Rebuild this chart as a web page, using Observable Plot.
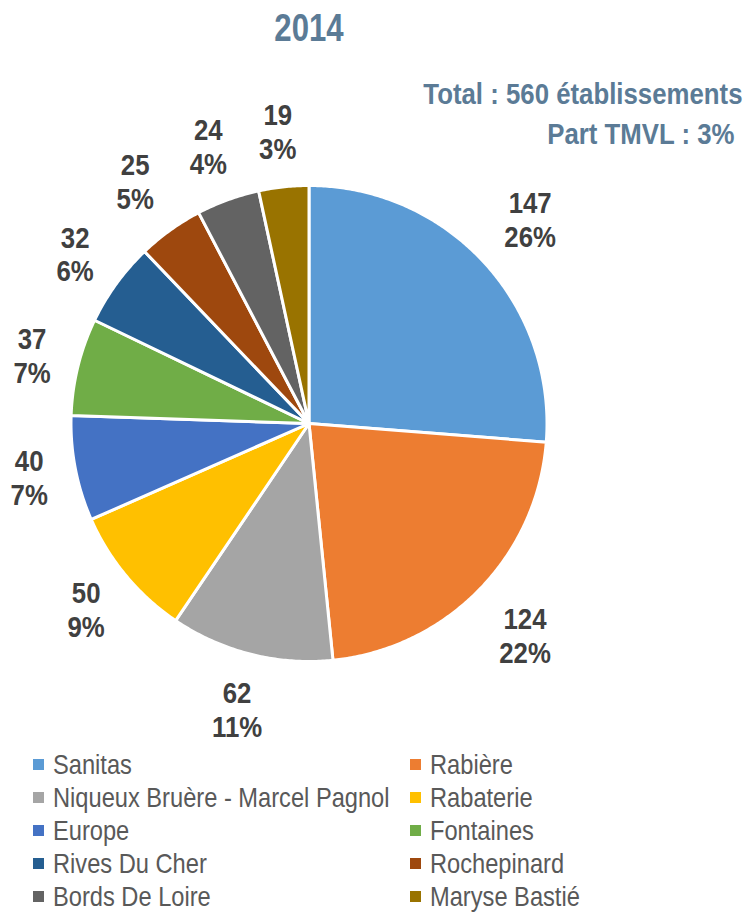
<!DOCTYPE html>
<html>
<head>
<meta charset="utf-8">
<script src="https://cdn.jsdelivr.net/npm/d3@7"></script>
<script src="https://cdn.jsdelivr.net/npm/@observablehq/plot@0.6"></script>
<style>
  html, body { margin: 0; padding: 0; background: #ffffff; }
  #wrap { position: relative; width: 747px; height: 912px; overflow: hidden; background: #fff; }
  #chart svg { display: block; }
  #legend {
    position: absolute; left: 33px; top: 748px;
    display: grid; grid-template-columns: 377px 300px; grid-auto-rows: 33px;
    font-family: "Liberation Sans", Arial, sans-serif; font-size: 27.5px; color: #595959;
  }
  .item { display: flex; align-items: center; white-space: nowrap; line-height: 33px; }
  .sw { width: 10.5px; height: 10.5px; flex: none; margin-right: 9.5px; }
  .lbl { display: inline-block; transform: scaleX(0.86); transform-origin: 0 50%; }
</style>
</head>
<body>
<div id="wrap">
  <div id="chart"></div>
  <div id="legend"></div>
</div>
<script>
// ---- data ----
const names = ["Sanitas", "Rabière", "Niqueux Bruère - Marcel Pagnol", "Rabaterie", "Europe",
               "Fontaines", "Rives Du Cher", "Rochepinard", "Bords De Loire", "Maryse Bastié"];
const values = [147, 124, 62, 50, 40, 37, 32, 25, 24, 19];
const percentLabels = ["26%", "22%", "11%", "9%", "7%", "7%", "6%", "5%", "4%", "3%"];
const colors = ["#5B9BD5", "#ED7D31", "#A5A5A5", "#FFC000", "#4472C4",
                "#70AD47", "#255E91", "#9E480E", "#636363", "#997300"];
const title = "2014";
const subtitleLines = ["Total : 560 établissements", "Part TMVL : 3%"];

// ---- layout ----
const W = 747, H = 745;
const cx = 308.5, cy = 423, R = 238;
const FONT = "Liberation Sans, Arial, sans-serif";
const LABEL_SIZE = 30, SX = 0.86, GAP = 28;

const rows = names.map((name, i) => ({name, value: values[i], pct: percentLabels[i]}));
const arcs = d3.pie().sort(null).value(d => d.value)(rows);

// slice outlines in unit-circle coordinates
const slicePts = [];
for (const a of arcs) {
  const n = Math.max(2, Math.ceil((a.endAngle - a.startAngle) / (Math.PI / 360)));
  slicePts.push({name: a.data.name, x: 0, y: 0});
  for (let k = 0; k <= n; k++) {
    const t = a.startAngle + (a.endAngle - a.startAngle) * k / n;
    slicePts.push({name: a.data.name, x: Math.sin(t), y: Math.cos(t)});
  }
  slicePts.push({name: a.data.name, x: 0, y: 0});
}

// label positions: outside end, label box just beyond the rim
const charW = c => (c === "%" ? 0.889 : 0.556);
const textW = s => Array.from(s).reduce((acc, c) => acc + charW(c), 0);
const labelPts = arcs.map(a => {
  const m = (a.startAngle + a.endAngle) / 2;
  const lines = [String(a.data.value), a.data.pct];
  const hw = d3.max(lines, textW) * LABEL_SIZE * SX / 2;
  const hh = 27.5;
  const s = Math.abs(Math.sin(m)), c = Math.abs(Math.cos(m));
  const t = Math.min(s > 1e-6 ? hw / s : Infinity, c > 1e-6 ? hh / c : Infinity);
  const d = (R + GAP + t) / R;
  return {x: Math.sin(m) * d, y: Math.cos(m) * d, text: lines.join("\n")};
});

const plot = Plot.plot({
  width: W, height: H,
  margin: 0,
  style: {background: "white", overflow: "visible"},
  x: {domain: [-1, 1], range: [cx - R, cx + R], axis: null},
  y: {domain: [-1, 1], range: [cy + R, cy - R], axis: null},
  color: {domain: names, range: colors},
  marks: [
    Plot.line(slicePts, {x: "x", y: "y", z: "name", fill: "name", stroke: "white", strokeWidth: 3, curve: "linear"}),
    Plot.text(labelPts, {x: "x", y: "y", text: "text",
      fontFamily: FONT, fontSize: LABEL_SIZE, fontWeight: "bold", fill: "#404040",
      lineHeight: 1.13, textAnchor: "middle", lineAnchor: "middle"}),
    Plot.text([title], {frameAnchor: "top", dx: cx - W / 2, dy: 40, text: d => d,
      fontFamily: FONT, fontSize: 38, fontWeight: "bold", fill: "#5B7B96", textAnchor: "middle", lineAnchor: "bottom"}),
    Plot.text([subtitleLines[0]], {frameAnchor: "top-right", dx: -5, dy: 103.5, text: d => d,
      fontFamily: FONT, fontSize: 30, fontWeight: "bold", fill: "#5B7B96", textAnchor: "end", lineAnchor: "bottom"}),
    Plot.text([subtitleLines[1]], {frameAnchor: "top-right", dx: -13, dy: 143, text: d => d,
      fontFamily: FONT, fontSize: 30, fontWeight: "bold", fill: "#5B7B96", textAnchor: "end", lineAnchor: "bottom"})
  ]
});

// condense text horizontally (reference uses a narrow face); text mark groups in mark order
const squeezes = [SX, 0.82, SX, SX];
const textGroups = Array.from(plot.querySelectorAll("g")).filter(g =>
  Array.from(g.children).some(ch => ch.tagName.toLowerCase() === "text"));
textGroups.forEach((g, gi) => {
  const sx = squeezes[gi] ?? SX;
  Array.from(g.children).filter(ch => ch.tagName.toLowerCase() === "text").forEach(t => {
    const tr = t.getAttribute("transform") || "";
    const x = +(t.getAttribute("x") || 0);
    t.setAttribute("transform", `${tr} translate(${x},0) scale(${sx},1) translate(${-x},0)`.trim());
  });
});
document.getElementById("chart").appendChild(plot);

// legend
const legend = d3.select("#legend");
names.forEach((n, i) => {
  const it = legend.append("div").attr("class", "item");
  it.append("span").attr("class", "sw").style("background", colors[i]);
  it.append("span").attr("class", "lbl").text(n);
});
</script>
</body>
</html>
